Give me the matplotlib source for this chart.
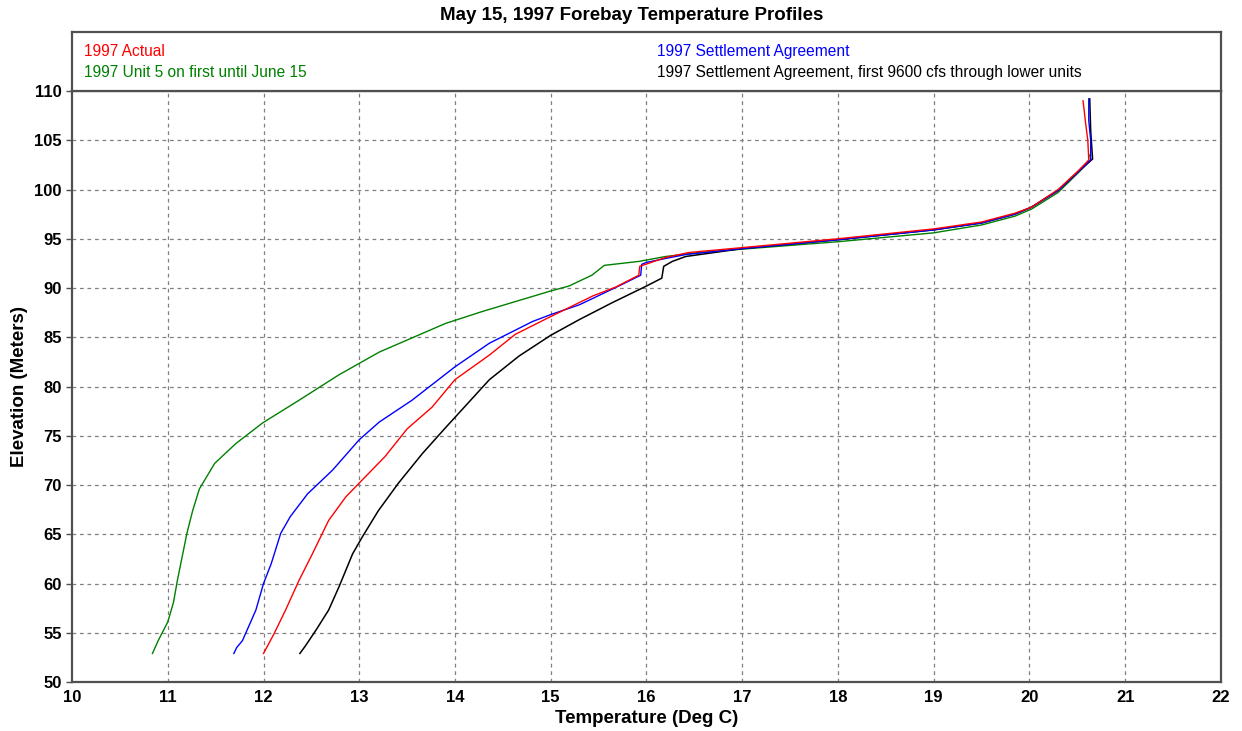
import matplotlib.pyplot as plt

plt.rcParams['font.family'] = ['Liberation Sans', 'DejaVu Sans']

title = "May 15, 1997 Forebay Temperature Profiles"

# 1997 Actual
red_t = [12.00, 12.11, 12.23, 12.37, 12.51, 12.68, 12.86, 13.03, 13.27, 13.50, 13.76, 14.00,
         14.36, 14.63, 15.00, 15.44, 15.68, 15.92, 15.93, 15.99, 16.20, 16.44, 16.55, 17.00,
         18.00, 19.00, 19.50, 19.85, 20.02, 20.30, 20.51, 20.62, 20.61, 20.59, 20.57, 20.56]
red_e = [52.9, 54.9, 57.3, 60.3, 63.0, 66.4, 68.8, 70.5, 72.9, 75.7, 77.9, 80.7,
         83.2, 85.3, 87.1, 89.2, 90.1, 91.3, 92.2, 92.4, 93.1, 93.6, 93.7, 94.1,
         95.0, 96.0, 96.7, 97.6, 98.2, 100.0, 101.9, 103.0, 105.0, 106.5, 108.2, 109.0]

# 1997 Settlement Agreement
blue_t = [11.69, 11.72, 11.78, 11.92, 12.00, 12.08, 12.18, 12.28, 12.46, 12.72, 13.00, 13.21,
          13.55, 14.00, 14.36, 14.81, 15.00, 15.30, 15.71, 15.94, 15.95, 16.00, 16.20, 16.41,
          17.00, 18.00, 19.00, 19.50, 19.85, 20.02, 20.30, 20.51, 20.64, 20.64, 20.62, 20.62]
blue_e = [52.9, 53.5, 54.2, 57.3, 60.0, 62.0, 65.1, 66.8, 69.1, 71.5, 74.6, 76.4,
          78.6, 82.0, 84.4, 86.6, 87.3, 88.3, 90.2, 91.3, 92.4, 92.6, 93.0, 93.4,
          94.0, 94.9, 95.9, 96.6, 97.5, 98.2, 99.9, 101.8, 103.0, 105.0, 107.0, 109.2]

# 1997 Settlement Agreement, first 9600 cfs through lower units
black_t = [12.38, 12.44, 12.55, 12.68, 12.79, 12.93, 13.03, 13.20, 13.41, 13.66, 13.89, 14.36,
           14.67, 15.00, 15.30, 15.64, 16.00, 16.16, 16.18, 16.27, 16.41, 17.00, 18.00, 19.00,
           19.50, 19.85, 20.02, 20.30, 20.51, 20.66, 20.65, 20.64, 20.63]
black_e = [52.9, 53.7, 55.3, 57.3, 59.7, 63.0, 64.7, 67.4, 70.2, 73.2, 75.7, 80.7,
           83.1, 85.2, 86.8, 88.5, 90.2, 91.0, 92.2, 92.7, 93.2, 94.0, 94.9, 95.9,
           96.6, 97.5, 98.2, 99.9, 101.8, 103.1, 104.5, 106.0, 109.2]

# 1997 Unit 5 on first until June 15
green_t = [10.84, 10.90, 11.00, 11.06, 11.10, 11.15, 11.20, 11.26, 11.33, 11.49, 11.71, 11.99,
           12.37, 12.79, 13.21, 13.90, 14.28, 15.00, 15.19, 15.43, 15.56, 15.92, 16.20, 16.55,
           17.07, 18.00, 19.00, 19.50, 19.85, 20.02, 20.30, 20.51, 20.64, 20.63]
green_e = [52.9, 54.2, 56.1, 58.1, 60.3, 62.7, 65.1, 67.4, 69.6, 72.2, 74.2, 76.3,
           78.6, 81.2, 83.5, 86.4, 87.6, 89.7, 90.2, 91.3, 92.3, 92.7, 93.2, 93.6,
           94.0, 94.7, 95.6, 96.4, 97.3, 98.0, 99.7, 101.7, 103.0, 103.5]

xticks = list(range(10, 23))
yticks = list(range(50, 111, 5))

fig = plt.figure(figsize=(12.42, 7.31), dpi=100)
ax = fig.add_axes([0.058, 0.067, 0.925, 0.8085])
lax = fig.add_axes([0.058, 0.8755, 0.925, 0.081])

frame = '#505050'

# grid drawn by hand so it stays inside the data area
for x in xticks[1:-1]:
    ax.axvline(x, color='#808080', lw=0.9, ls=(0, (3, 3)), zorder=1)
for y in yticks[1:-1]:
    ax.axhline(y, color='#808080', lw=0.9, ls=(0, (3, 3)), zorder=1)

ax.plot(green_t, green_e, color='#008000', lw=1.0, zorder=3)
ax.plot(black_t, black_e, color='black', lw=1.1, zorder=4)
ax.plot(blue_t, blue_e, color='#0000ff', lw=1.0, zorder=5)
ax.plot(red_t, red_e, color='#ff0000', lw=1.0, zorder=6)

ax.set_xlim(10, 22)
ax.set_ylim(50, 110)
ax.set_xticks(xticks)
ax.set_yticks(yticks)
ax.tick_params(axis='x', length=0, pad=6, labelsize=12)
ax.tick_params(axis='y', length=4, width=1, color=frame, labelsize=12)
for lab in ax.get_xticklabels() + ax.get_yticklabels():
    lab.set_fontweight('bold')
for s in ax.spines.values():
    s.set_color(frame)
    s.set_linewidth(1.6)

ax.set_xlabel("Temperature (Deg C)", fontsize=13.5, fontweight='bold', labelpad=3)
ax.set_ylabel("Elevation (Meters)", fontsize=13.5, fontweight='bold', labelpad=4)

lax.set_xticks([])
lax.set_yticks([])
lax.set_xlim(0, 1)
lax.set_ylim(0, 1)
for s in lax.spines.values():
    s.set_color(frame)
    s.set_linewidth(1.6)
lax.text(0.010, 0.66, "1997 Actual", color='#ff0000', fontsize=11.2, va='center')
lax.text(0.010, 0.31, "1997 Unit 5 on first until June 15", color='#008000', fontsize=11.2, va='center')
lax.text(0.509, 0.66, "1997 Settlement Agreement", color='#0000ff', fontsize=11.2, va='center')
lax.text(0.509, 0.31, "1997 Settlement Agreement, first 9600 cfs through lower units", color='black',
         fontsize=11.2, va='center')

fig.text(0.509, 0.979, title, ha='center', va='center', fontsize=13.5, fontweight='bold')

plt.savefig('out.png', dpi=100)
